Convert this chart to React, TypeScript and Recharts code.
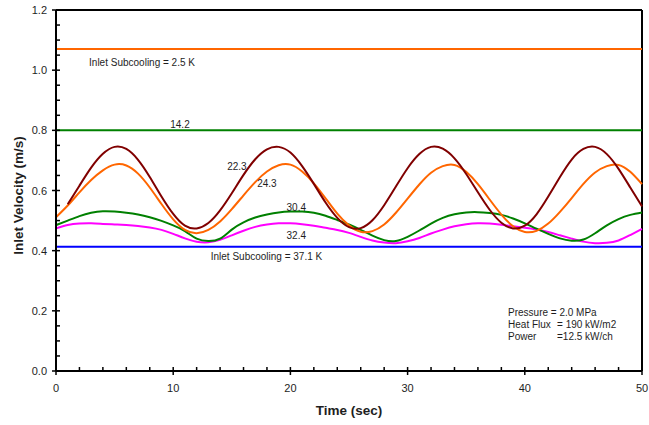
import { LineChart, Line, XAxis, YAxis, ReferenceLine, ReferenceDot, Label } from "recharts";

// time axis (sec)
const time = [
  0, 1, 2, 3, 4, 5, 6, 7, 8, 9, 10, 11, 12, 13, 14, 15, 16, 17, 18, 19, 20, 21, 22, 23, 24, 25,
  26, 27, 28, 29, 30, 31, 32, 33, 34, 35, 36, 37, 38, 39, 40, 41, 42, 43, 44, 45, 46, 47, 48, 49, 50,
];

// inlet velocity (m/s) for each subcooling case
const sub223 = [
  null, 0.554, 0.616, 0.676, 0.722, 0.745, 0.738, 0.702, 0.645, 0.58, 0.522, 0.483, 0.474, 0.492,
  0.534, 0.591, 0.652, 0.704, 0.737, 0.745, 0.726, 0.681, 0.622, 0.56, 0.509, 0.478, 0.475, 0.501,
  0.551, 0.613, 0.674, 0.721, 0.745, 0.739, 0.707, 0.655, 0.594, 0.536, 0.493, 0.474, 0.483, 0.521,
  0.58, 0.645, 0.703, 0.738, 0.745, 0.721, 0.672, 0.61, 0.547,
];
const sub243 = [
  0.511, 0.55, 0.594, 0.635, 0.667, 0.686, 0.683, 0.656, 0.61, 0.555, 0.504, 0.469, 0.458, 0.469,
  0.497, 0.538, 0.584, 0.628, 0.663, 0.684, 0.686, 0.663, 0.624, 0.574, 0.523, 0.484, 0.463, 0.465,
  0.487, 0.526, 0.573, 0.62, 0.659, 0.681, 0.685, 0.662, 0.621, 0.57, 0.52, 0.481, 0.462, 0.466,
  0.49, 0.529, 0.575, 0.622, 0.66, 0.681, 0.685, 0.662, 0.621,
];
const sub304 = [
  0.485, 0.5, 0.515, 0.526, 0.531, 0.53, 0.526, 0.52, 0.511, 0.499, 0.484, 0.465, 0.44, 0.432,
  0.44, 0.47, 0.494, 0.51, 0.52, 0.527, 0.53, 0.53, 0.526, 0.516, 0.502, 0.487, 0.469, 0.45,
  0.435, 0.432, 0.446, 0.467, 0.49, 0.509, 0.521, 0.527, 0.528, 0.525, 0.519, 0.507, 0.491, 0.473,
  0.456, 0.441, 0.433, 0.437, 0.458, 0.484, 0.505, 0.519, 0.527,
];
const sub324 = [
  0.474, 0.485, 0.49, 0.491, 0.489, 0.487, 0.485, 0.482, 0.477, 0.469, 0.456, 0.441, 0.43, 0.428,
  0.436, 0.451, 0.466, 0.479, 0.487, 0.491, 0.491, 0.488, 0.483, 0.476, 0.469, 0.459, 0.446, 0.434,
  0.427, 0.425, 0.431, 0.442, 0.457, 0.47, 0.481, 0.488, 0.491, 0.49, 0.486, 0.481, 0.476, 0.47,
  0.462, 0.451, 0.44, 0.43, 0.425, 0.426, 0.434, 0.452, 0.472,
];

// steady cases (constant velocity)
const steady25 = 1.07;
const steady142 = 0.8;
const steady371 = 0.413;

const xTicks = [0, 2, 4, 6, 8, 10, 12, 14, 16, 18, 20, 22, 24, 26, 28, 30, 32, 34, 36, 38, 40, 42, 44, 46, 48, 50];
const yTicks = [
  0, 0.05, 0.1, 0.15, 0.2, 0.25, 0.3, 0.35, 0.4, 0.45, 0.5, 0.55, 0.6, 0.65, 0.7, 0.75, 0.8, 0.85,
  0.9, 0.95, 1.0, 1.05, 1.1, 1.15, 1.2,
];

const rows = time.map((t, i) => ({ t, s223: sub223[i], s243: sub243[i], s304: sub304[i], s324: sub324[i] }));

const FONT = '"Liberation Sans", Arial, sans-serif';
const INK = "#1e1e1e";

const XTick = ({ x, y, payload }: any) => {
  const major = payload.value % 10 === 0;
  return (
    <g>
      <line x1={x} x2={x} y1={y - 4} y2={major ? y + 4 : y} stroke="#000" strokeWidth={1.5} />
      {major && (
        <text x={x} y={y + 21} textAnchor="middle" fontSize={11} fill={INK} fontFamily={FONT}>
          {payload.value}
        </text>
      )}
    </g>
  );
};

const YTick = ({ x, y, payload }: any) => {
  const v = payload.value;
  const major = Math.abs(v * 5 - Math.round(v * 5)) < 1e-6;
  return (
    <g>
      <line x1={major ? x - 4 : x} x2={x + 4} y1={y} y2={y} stroke="#000" strokeWidth={1.5} />
      {major && (
        <text x={x - 9} y={y + 4} textAnchor="end" fontSize={11} fill={INK} fontFamily={FONT}>
          {v.toFixed(1)}
        </text>
      )}
    </g>
  );
};

// small text placed at a data position
const note = (text: string, anchor: "middle" | "start" = "middle") => ({ viewBox }: any) => (
  <text x={viewBox.x} y={viewBox.y} dy={3.5} textAnchor={anchor} fontSize={10} fill={INK} fontFamily={FONT}>
    {text}
  </text>
);

const App = () => {
  return (
    <div style={{ width: 649, height: 425, background: "#fff" }}>
      <style>{`body { margin: 0; }`}</style>
      <LineChart width={649} height={425} data={rows} margin={{ top: 10, right: 7, left: 0, bottom: 0 }}>
        <XAxis
          dataKey="t"
          type="number"
          domain={[0, 50]}
          ticks={xTicks}
          interval={0}
          height={54}
          tickSize={0}
          tickMargin={0}
          tick={<XTick />}
          axisLine={{ stroke: "#000", strokeWidth: 2 }}
        >
          <Label
            content={({ viewBox }: any) => (
              <text
                x={viewBox.x + viewBox.width / 2}
                y={viewBox.y + 44}
                textAnchor="middle"
                fontSize={13.5}
                fontWeight="bold"
                fill={INK}
                fontFamily={FONT}
              >
                Time (sec)
              </text>
            )}
          />
        </XAxis>
        <YAxis
          type="number"
          domain={[0, 1.2]}
          ticks={yTicks}
          interval={0}
          width={56}
          tickSize={0}
          tickMargin={0}
          tick={<YTick />}
          axisLine={{ stroke: "#000", strokeWidth: 2 }}
        >
          <Label
            content={({ viewBox }: any) => {
              const cx = viewBox.x + 18;
              const cy = viewBox.y + viewBox.height / 2 + 5;
              return (
                <text
                  x={cx}
                  y={cy}
                  transform={`rotate(-90 ${cx} ${cy})`}
                  textAnchor="middle"
                  dominantBaseline="central"
                  fontSize={13.5}
                  fontWeight="bold"
                  fill={INK}
                  fontFamily={FONT}
                >
                  Inlet Velocity (m/s)
                </text>
              );
            }}
          />
        </YAxis>

        {/* plot frame */}
        <ReferenceLine y={1.2} stroke="#000" strokeWidth={2} />
        <ReferenceLine x={50} stroke="#000" strokeWidth={2} />

        <ReferenceLine y={steady25} stroke="#FF6600" strokeWidth={2} />
        <ReferenceLine y={steady142} stroke="#008000" strokeWidth={2} />
        <ReferenceLine y={steady371} stroke="#0000FF" strokeWidth={2} />

        <Line dataKey="s324" type="natural" stroke="#FF00FF" strokeWidth={2} dot={false} isAnimationActive={false} />
        <Line dataKey="s304" type="natural" stroke="#008000" strokeWidth={2} dot={false} isAnimationActive={false} />
        <Line dataKey="s243" type="natural" stroke="#FF6600" strokeWidth={2} dot={false} isAnimationActive={false} />
        <Line dataKey="s223" type="natural" stroke="#800000" strokeWidth={2} dot={false} isAnimationActive={false} />

        <ReferenceDot x={7.34} y={1.027} r={0} stroke="none" label={note("Inlet Subcooling = 2.5 K")} />
        <ReferenceDot x={10.58} y={0.821} r={0} stroke="none" label={note("14.2")} />
        <ReferenceDot x={15.44} y={0.679} r={0} stroke="none" label={note("22.3")} />
        <ReferenceDot x={18.0} y={0.624} r={0} stroke="none" label={note("24.3")} />
        <ReferenceDot x={20.5} y={0.543} r={0} stroke="none" label={note("30.4")} />
        <ReferenceDot x={20.5} y={0.449} r={0} stroke="none" label={note("32.4")} />
        <ReferenceDot x={17.96} y={0.38} r={0} stroke="none" label={note("Inlet Subcooling = 37.1 K")} />

        <ReferenceDot x={38.57} y={0.195} r={0} stroke="none" label={note("Pressure = 2.0 MPa", "start")} />
        <ReferenceDot x={38.57} y={0.155} r={0} stroke="none" label={note("Heat Flux", "start")} />
        <ReferenceDot x={42.75} y={0.155} r={0} stroke="none" label={note("= 190 kW/m2", "start")} />
        <ReferenceDot x={38.57} y={0.114} r={0} stroke="none" label={note("Power", "start")} />
        <ReferenceDot x={42.75} y={0.114} r={0} stroke="none" label={note("=12.5 kW/ch", "start")} />
      </LineChart>
    </div>
  );
};

export default App;
